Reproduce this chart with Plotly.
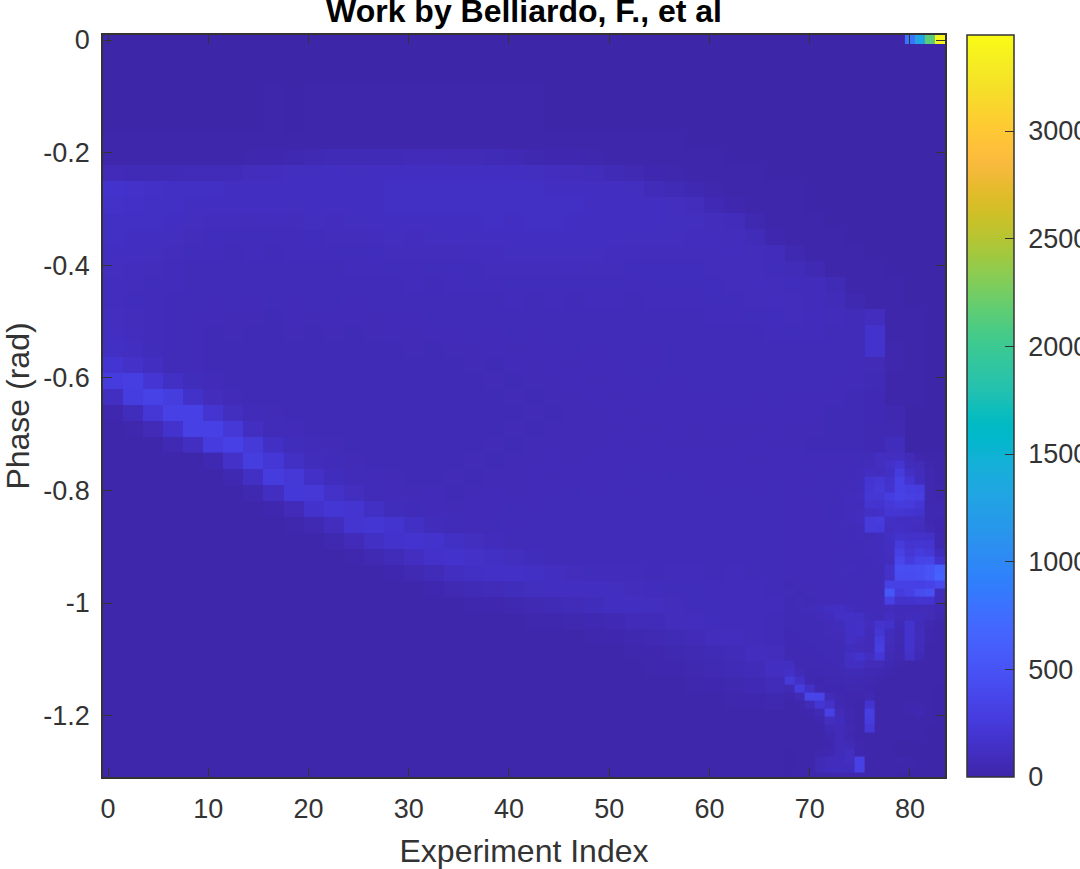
import plotly.graph_objects as go

title_text = "Work by Belliardo, F., et al"
x_label = "Experiment Index"
y_label = "Phase (rad)"
x_ticks = [0, 10, 20, 30, 40, 50, 60, 70, 80]
y_ticks = [0, -0.2, -0.4, -0.6, -0.8, -1, -1.2]
y_tick_text = ["0", "-0.2", "-0.4", "-0.6", "-0.8", "-1", "-1.2"]
cbar_ticks = [0, 500, 1000, 1500, 2000, 2500, 3000]
count_max = 3446

parula = [
    [0.2422, 0.1504, 0.6603], [0.2504, 0.1650, 0.7076], [0.2578, 0.1818, 0.7511], [0.2647, 0.1978, 0.7952],
    [0.2706, 0.2147, 0.8364], [0.2751, 0.2342, 0.8710], [0.2783, 0.2559, 0.8991], [0.2803, 0.2782, 0.9221],
    [0.2813, 0.3006, 0.9414], [0.2810, 0.3228, 0.9579], [0.2795, 0.3447, 0.9717], [0.2760, 0.3667, 0.9829],
    [0.2699, 0.3892, 0.9906], [0.2602, 0.4123, 0.9952], [0.2440, 0.4358, 0.9988], [0.2206, 0.4603, 0.9973],
    [0.1963, 0.4847, 0.9892], [0.1834, 0.5074, 0.9798], [0.1786, 0.5289, 0.9682], [0.1764, 0.5499, 0.9520],
    [0.1687, 0.5703, 0.9359], [0.1540, 0.5902, 0.9218], [0.1460, 0.6091, 0.9079], [0.1380, 0.6276, 0.8973],
    [0.1248, 0.6459, 0.8883], [0.1113, 0.6635, 0.8763], [0.0952, 0.6798, 0.8598], [0.0689, 0.6948, 0.8394],
    [0.0297, 0.7082, 0.8163], [0.0036, 0.7203, 0.7917], [0.0067, 0.7312, 0.7660], [0.0433, 0.7411, 0.7394],
    [0.0964, 0.7500, 0.7120], [0.1408, 0.7584, 0.6842], [0.1717, 0.7670, 0.6554], [0.1938, 0.7758, 0.6251],
    [0.2161, 0.7843, 0.5923], [0.2470, 0.7918, 0.5567], [0.2906, 0.7973, 0.5188], [0.3406, 0.8008, 0.4789],
    [0.3909, 0.8029, 0.4354], [0.4456, 0.8024, 0.3909], [0.5044, 0.7993, 0.3480], [0.5616, 0.7942, 0.3045],
    [0.6174, 0.7876, 0.2612], [0.6720, 0.7793, 0.2227], [0.7242, 0.7698, 0.1910], [0.7738, 0.7598, 0.1646],
    [0.8203, 0.7498, 0.1535], [0.8634, 0.7406, 0.1596], [0.9035, 0.7330, 0.1774], [0.9393, 0.7288, 0.2100],
    [0.9728, 0.7298, 0.2394], [0.9956, 0.7434, 0.2371], [0.9970, 0.7659, 0.2199], [0.9952, 0.7893, 0.2028],
    [0.9892, 0.8136, 0.1885], [0.9786, 0.8386, 0.1766], [0.9676, 0.8639, 0.1643], [0.9610, 0.8890, 0.1537],
    [0.9597, 0.9135, 0.1423], [0.9628, 0.9373, 0.1265], [0.9691, 0.9606, 0.1064], [0.9769, 0.9839, 0.0805],
]

counts_upper = [
    [4,5,4,5,5,4,5,5,5,4,5,5,5,4,5,5,5,5,4,5,5,5,4,5,5,5,4,5,5,5,4,5,5,5,4,5,5,5,5,4,5,5],
    [5,5,6,5,5,6,6,6,7,6,7,7,7,8,7,7,8,7,7,8,7,7,6,6,6,5,6,5,5,5,5,5,5,5,5,5,5,5,5,5,5,5],
    [7,7,7,8,7,8,9,10,11,12,13,14,15,16,17,17,18,17,16,15,13,12,11,10,9,7,7,7,7,6,6,6,6,6,6,6,6,6,6,6,6,6],
    [10,10,10,11,14,16,18,24,32,40,55,62,66,64,68,72,74,70,70,66,60,42,34,30,26,14,12,10,9,8,7,6,6,6,6,6,6,6,6,6,6,6],
    [72,66,64,68,76,80,84,96,100,104,106,108,104,108,110,112,108,110,112,108,108,104,100,98,92,64,56,30,24,18,11,8,7,6,6,6,6,6,6,6,6,6],
    [165,155,140,132,126,122,120,118,116,114,118,114,116,120,122,126,128,124,126,130,128,126,120,118,114,112,106,80,65,46,24,14,10,8,7,6,6,6,6,6,6,6],
    [150,142,130,124,118,114,112,108,110,106,112,108,114,118,124,124,126,122,128,132,134,130,126,124,120,116,112,108,106,98,60,30,14,9,7,6,6,6,6,6,6,6],
    [135,130,122,112,106,102,100,96,100,96,104,102,106,110,114,116,112,114,120,122,118,124,122,120,116,114,110,108,104,104,98,88,36,15,9,7,6,6,6,6,6,6],
    [124,118,110,104,96,94,92,90,92,88,94,96,98,102,104,102,106,108,106,112,114,114,116,112,110,110,106,104,104,102,100,98,84,34,15,9,7,6,6,6,6,6],
    [116,110,104,96,92,88,84,88,82,86,88,90,92,94,98,96,98,96,100,102,104,106,104,106,104,102,100,98,98,98,98,100,96,86,36,14,9,7,6,6,6,6],
    [106,102,96,90,84,82,84,78,80,82,84,82,86,88,90,88,92,94,92,96,98,98,96,100,96,98,94,94,94,94,96,98,98,92,82,50,13,8,7,6,6,6],
    [102,96,92,86,80,76,80,76,78,80,76,80,82,84,82,86,84,88,90,88,90,92,90,92,90,92,88,92,92,92,94,98,100,98,94,86,66,18,8,7,6,6],
    [100,94,88,82,76,74,76,72,76,72,76,78,74,78,76,82,80,82,80,84,86,84,86,84,86,86,84,86,88,88,90,92,96,100,98,92,84,40,10,7,6,6],
    [104,96,88,80,74,72,70,70,68,74,70,72,74,70,74,72,76,78,76,78,80,78,82,80,82,80,82,84,84,84,86,88,90,94,98,94,88,78,100,10,7,6],
    [112,100,88,78,72,68,70,66,68,70,66,70,68,70,72,70,72,74,76,72,76,74,78,76,78,80,76,80,80,80,82,84,84,88,90,88,84,80,170,12,7,6],
    [125,108,92,80,72,66,64,66,64,66,66,64,68,66,66,70,68,70,70,72,70,74,72,76,74,76,76,74,78,78,80,80,82,82,84,82,78,76,165,24,7,6],
    [200,150,110,84,74,66,66,62,64,62,64,66,62,66,64,66,68,66,70,68,72,70,72,70,74,72,76,74,76,76,78,76,80,78,80,78,76,72,70,22,8,6],
    [270,300,210,130,90,72,66,64,62,64,62,62,66,62,66,64,66,68,66,70,68,70,70,72,70,74,72,76,74,76,76,76,76,76,78,76,72,72,62,14,7,6],
    [120,280,340,280,160,96,74,68,66,62,64,62,64,62,64,66,64,66,68,66,70,68,70,70,72,70,74,72,74,72,74,76,74,76,74,72,72,68,60,12,7,6],
    [30,90,220,330,320,190,104,78,70,66,64,66,62,64,62,66,64,66,66,68,66,70,68,70,70,72,70,72,72,74,72,72,74,72,72,72,68,66,58,40,6,6],
    [12,24,70,170,320,330,230,120,84,74,68,66,66,64,66,64,66,66,68,66,70,68,70,70,70,70,72,70,72,70,72,70,70,72,70,70,66,64,56,50,6,6],
    [9,12,20,50,120,270,320,240,130,92,76,70,66,68,66,66,66,68,66,70,68,70,70,70,70,72,70,72,70,70,70,70,72,70,70,68,66,64,60,90,6,6],
]

counts_lower_left = [
    [8,9,10,12,16,45,150,280,220,130,92,76,70,68,66,66,68,66,70,68,70,70,72,70,72,74,72,74,72,72,74,72,70,72],
    [8,8,8,9,10,16,45,130,260,225,140,94,78,72,70,68,66,70,68,70,70,72,70,74,72,74,76,74,76,74,74,72,74,72],
    [7,7,7,8,9,10,14,38,110,235,225,150,104,82,74,70,72,68,70,72,70,74,72,76,74,76,74,78,76,76,74,76,74,76],
    [7,7,7,7,8,9,10,12,30,75,170,205,190,125,92,78,72,70,74,72,76,74,78,76,78,76,80,78,78,80,78,78,76,78],
    [7,7,7,7,7,8,9,9,11,22,50,100,190,205,185,125,92,78,74,76,74,78,76,78,80,78,80,78,80,78,78,80,78,76],
    [7,7,7,7,7,7,8,9,9,11,16,36,72,125,165,180,170,135,104,86,80,78,80,78,82,80,82,80,80,82,80,80,80,78],
    [7,7,7,7,7,7,7,8,8,9,10,14,22,48,78,110,155,165,150,128,106,92,84,82,84,82,84,82,84,82,84,82,82,80],
    [7,7,7,7,7,7,7,7,8,8,9,10,12,16,30,52,78,110,125,145,140,130,112,98,90,88,86,84,86,88,84,86,84,82],
    [7,7,7,7,7,7,7,7,7,8,8,9,10,11,14,18,30,50,65,78,90,105,120,118,116,105,98,95,92,90,88,88,86,84],
    [7,7,7,7,7,7,7,7,7,7,8,8,9,9,10,11,14,18,24,30,40,55,68,82,92,108,112,106,98,92,90,88,88,86],
    [7,7,7,7,7,7,7,7,7,7,7,8,8,8,9,9,10,11,12,14,18,22,28,36,46,58,72,82,98,102,95,88,86,84],
    [7,7,7,7,7,7,7,7,7,7,7,7,8,8,8,9,9,9,10,11,12,14,16,20,24,30,40,50,62,75,98,100,88,82],
    [7,7,7,7,7,7,7,7,7,7,7,7,7,7,8,8,8,8,9,9,9,10,11,12,14,18,24,30,40,50,62,78,100,96],
    [7,7,7,7,7,7,7,7,7,7,7,7,7,7,7,8,8,8,8,9,9,9,10,11,12,14,18,24,30,40,50,66,84,115],
    [7,7,7,7,7,7,7,7,7,7,7,7,7,7,7,7,7,7,8,8,8,9,9,9,10,11,12,14,18,24,30,40,60,80],
    [7,7,7,7,7,7,7,7,7,7,7,7,7,7,7,7,7,7,8,8,8,9,9,9,10,10,11,12,14,16,20,26,32,40],
    [7,7,7,7,7,7,7,7,7,7,7,7,7,7,7,7,7,7,7,7,8,8,8,8,9,9,10,10,11,12,14,16,18,20],
    [7,7,7,7,7,7,7,7,7,7,7,7,7,7,7,7,7,7,7,7,7,7,7,7,8,8,8,8,9,9,10,10,11,12],
    [7,7,7,7,7,7,7,7,7,7,7,7,7,7,7,7,7,7,7,7,7,7,7,7,7,7,8,8,8,8,8,9,9,9],
    [7,7,7,7,7,7,7,7,7,7,7,7,7,7,7,7,7,7,7,7,7,7,7,7,7,7,7,7,7,8,8,8,8,8],
    [7,7,7,7,7,7,7,7,7,7,7,7,7,7,7,7,7,7,7,7,7,7,7,7,7,7,7,7,7,7,7,7,7,7],
]

counts_right = [
    [72,74,72,76,74,72,74,76,80,120,120,120,70,30,10,8],
    [74,72,76,74,72,76,74,78,85,110,150,190,90,70,22,10],
    [72,76,74,72,78,76,80,85,110,100,125,270,130,85,35,14],
    [76,74,72,78,74,80,82,90,200,215,170,320,200,95,35,20],
    [74,72,76,74,78,76,84,95,205,240,185,330,285,270,40,26],
    [72,76,74,78,76,82,95,100,215,215,280,340,305,295,42,32],
    [76,74,78,72,80,84,100,90,190,185,225,275,250,210,40,36],
    [74,72,70,74,76,82,90,100,130,145,205,205,185,175,46,36],
    [72,74,70,72,76,78,86,100,255,260,125,115,115,105,46,32],
    [72,70,74,70,74,76,84,90,250,245,115,125,115,100,50,32],
    [70,74,72,70,72,76,80,86,84,90,125,175,160,160,145,40],
    [70,72,70,74,70,74,78,82,85,95,110,255,190,205,195,40],
    [72,70,74,70,72,74,78,82,86,90,115,330,215,265,225,90],
    [70,72,70,72,70,76,80,78,84,86,100,385,270,345,355,175],
    [72,70,74,70,74,78,88,80,78,82,160,450,440,445,500,600],
    [70,74,70,72,72,76,82,78,76,80,150,430,430,440,500,640],
    [68,70,72,70,72,74,78,76,74,78,320,330,320,310,340,400],
    [70,68,70,72,70,72,76,78,74,76,540,270,320,420,470,90],
    [68,70,68,70,72,70,74,76,72,74,330,170,170,195,180,80],
    [66,70,72,95,115,125,100,80,75,72,85,78,76,74,70,60],
    [64,66,68,72,95,130,145,135,90,80,110,76,85,95,70,40],
    [62,64,66,68,72,90,135,145,100,180,160,64,175,80,40,14],
    [60,62,64,66,70,72,130,140,80,205,95,56,165,85,34,11],
    [58,60,62,64,66,70,135,100,72,270,85,50,175,85,28,9],
    [54,58,60,62,64,66,95,85,72,295,75,46,165,75,20,8],
    [60,56,58,60,62,66,135,175,115,220,65,40,145,60,14,7],
    [105,56,50,56,60,62,115,115,75,70,46,28,20,14,9,7],
    [145,80,44,44,50,56,64,64,52,46,28,16,11,9,7,7],
    [240,140,45,32,38,44,50,45,40,28,16,11,9,8,7,7],
    [64,270,145,45,32,32,38,38,32,20,14,10,8,7,7,6],
    [26,64,360,350,80,38,32,26,55,16,11,9,20,16,7,6],
    [16,26,70,205,150,45,26,20,185,14,10,8,30,28,7,6],
    [11,16,32,64,320,70,38,20,290,14,9,8,28,45,7,6],
    [9,11,20,32,105,95,45,20,270,12,8,7,14,16,7,6],
    [8,9,14,20,64,72,52,20,225,11,8,7,9,9,6,6],
    [7,8,10,16,40,70,46,20,20,10,7,7,7,7,6,6],
    [7,7,9,11,32,80,64,26,11,9,7,6,6,6,6,6],
    [6,7,8,26,45,80,105,32,10,8,7,6,6,6,6,6],
    [6,7,20,64,85,95,105,320,20,14,16,26,7,6,6,6],
    [6,7,16,64,95,95,95,320,20,12,14,16,7,6,6,6],
    [6,6,8,10,14,26,32,26,9,8,7,6,6,6,6,6],
]

counts_strip = [[800, 1300, 2150, 3400]]

x_range = [-0.5, 83.5]
y_range = [-1.309, 0.0089]
y_origin = 0.0062
y_cell = 0.02842

x_edges_wide = [-0.5 + 2 * i for i in range(42)] + [84]
x_edges_left = [-0.5 + 2 * i for i in range(35)]
x_edges_right = [67.5 + i for i in range(16)] + [84]
x_edges_strip = [79.5, 80.5, 81.5, 82.5, 84]

row_index_upper = [0, 3, 6] + list(range(7, 27))
y_edges_upper = [y_origin - y_cell * i for i in row_index_upper]
y_edges_upper[0] = y_range[1]
y_edges_left = [y_origin - y_cell * i for i in range(26, 48)]
y_edges_right = [y_origin - y_cell * 26 - y_cell / 2 * i for i in range(42)]
y_edges_strip = [y_range[1], -0.0078]

n = len(parula) - 1
colorscale = [[i / n, "rgb(%d,%d,%d)" % tuple(round(c * 255) for c in rgb)] for i, rgb in enumerate(parula)]

fig = go.Figure()
blocks = [
    (x_edges_wide, y_edges_upper, counts_upper),
    (x_edges_left, y_edges_left, counts_lower_left),
    (x_edges_right, y_edges_right, counts_right),
    (x_edges_strip, y_edges_strip, counts_strip),
]
for xs, ys, zs in blocks:
    fig.add_trace(go.Heatmap(x=xs, y=ys, z=zs, coloraxis="coloraxis", zsmooth=False, hoverongaps=False))

FONT = "Liberation Sans"
INK = "#333333"
axis_common = dict(
    showgrid=False, zeroline=False, showline=True, linecolor=INK, linewidth=1.5,
    mirror="allticks", ticks="inside", ticklen=9, tickwidth=1, tickcolor=INK,
    tickfont=dict(family=FONT, size=27, color=INK),
)
fig.update_layout(
    width=1080, height=869,
    paper_bgcolor="white", plot_bgcolor="white",
    margin=dict(l=103, r=135, t=35, b=92, autoexpand=False),
    font=dict(family=FONT, color=INK),
    title=dict(text=title_text, x=0.5, xref="paper", xanchor="center", y=1, yref="paper", yanchor="bottom",
               pad=dict(b=13), font=dict(family=FONT, size=32, color="black", weight="bold")),
    xaxis=dict(range=x_range, tickmode="array", tickvals=x_ticks, ticktext=[str(v) for v in x_ticks],
               ticklabelstandoff=7,
               title=dict(text=x_label, font=dict(family=FONT, size=32, color=INK), standoff=18), **axis_common),
    yaxis=dict(range=y_range, tickmode="array", tickvals=y_ticks, ticktext=y_tick_text,
               ticklabelstandoff=6,
               title=dict(text=y_label, font=dict(family=FONT, size=32, color=INK), standoff=14), **axis_common),
    coloraxis=dict(
        cmin=0, cmax=count_max, colorscale=colorscale,
        colorbar=dict(
            x=1.026, xanchor="left", xref="paper", y=0.5, yanchor="middle", yref="paper", len=1, lenmode="fraction",
            thickness=47, thicknessmode="pixels", xpad=0, ypad=0,
            outlinecolor=INK, outlinewidth=1.5,
            tickmode="array", tickvals=cbar_ticks, ticktext=["\u00a0" + str(v) for v in cbar_ticks],
            ticks="inside", ticklen=9, tickwidth=1, tickcolor=INK,
            tickfont=dict(family=FONT, size=27, color=INK),
        ),
    ),
)
fig.write_html("out.html", config={"displayModeBar": False}, post_script="document.body.style.margin='0';")
